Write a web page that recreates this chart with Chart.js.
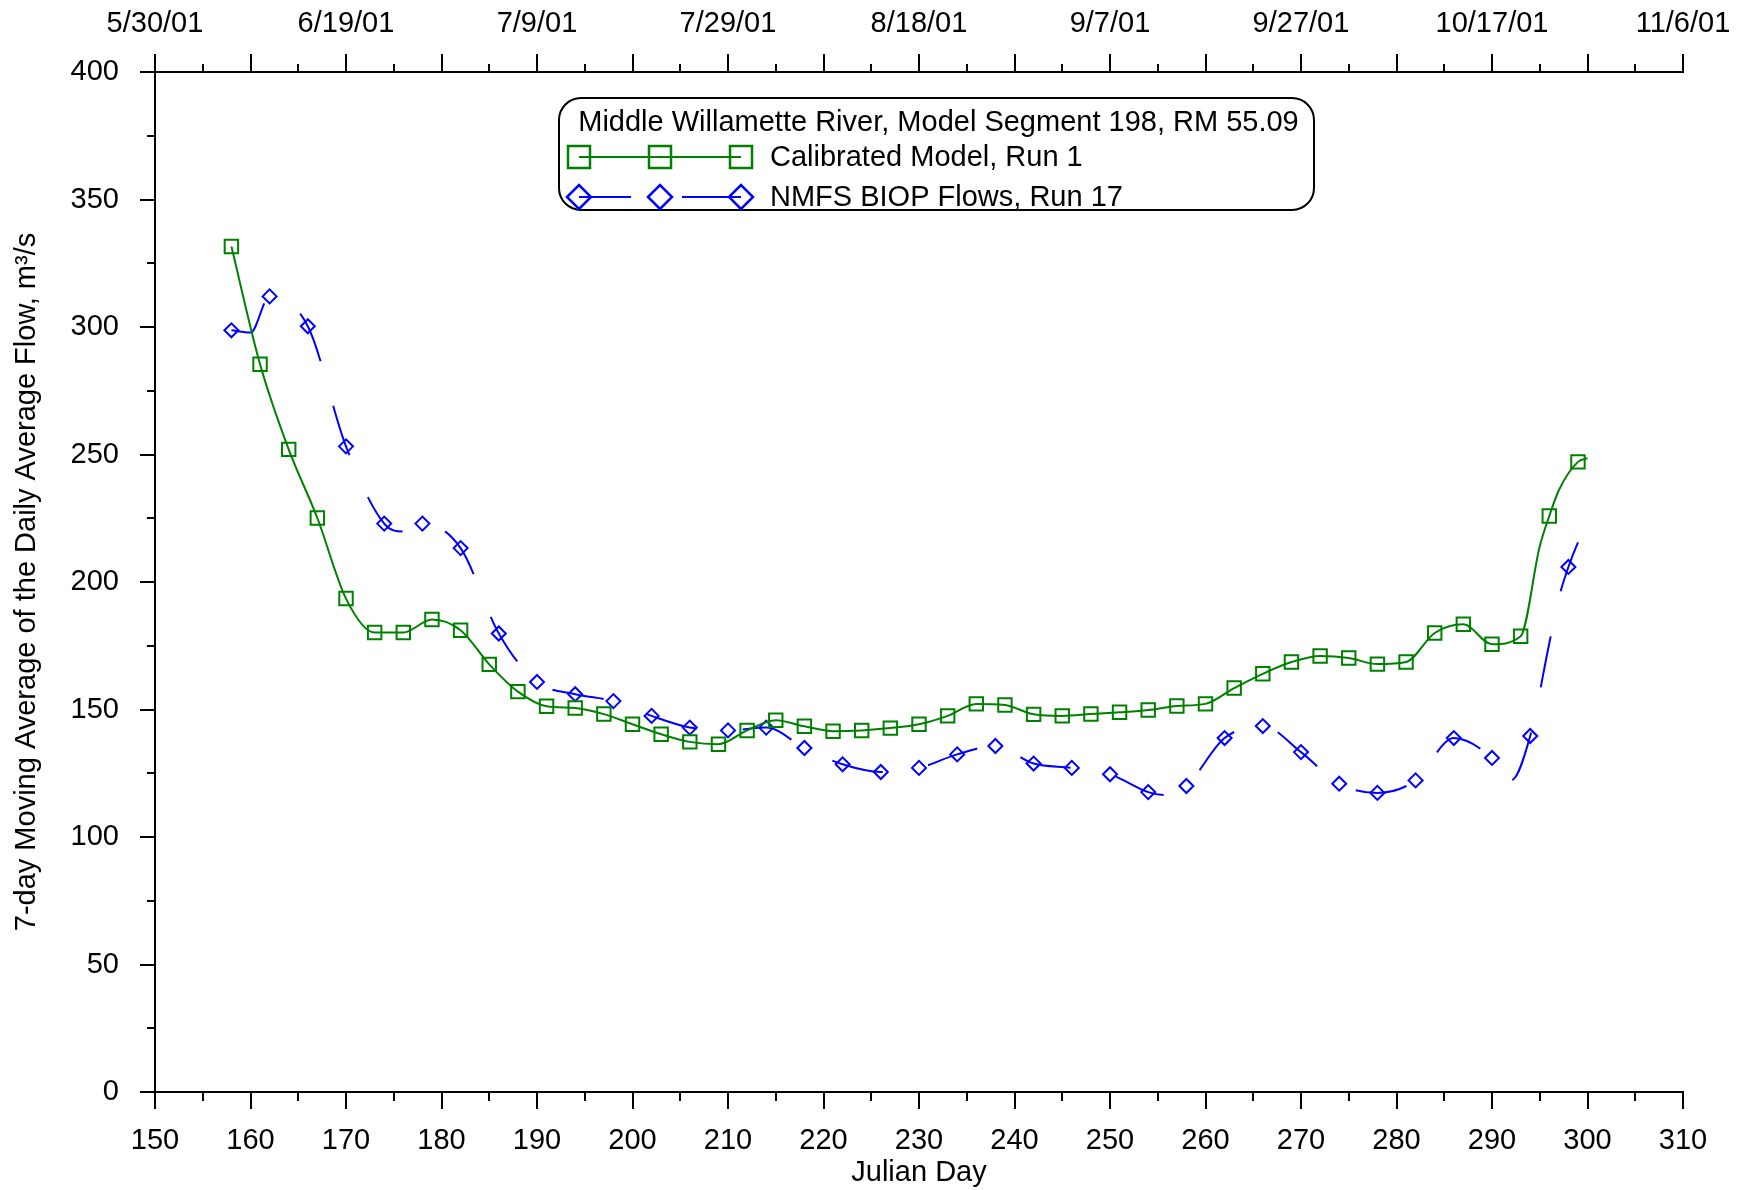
<!DOCTYPE html>
<html>
<head>
<meta charset="utf-8">
<script src="https://cdn.jsdelivr.net/npm/chart.js@4.4.1/dist/chart.umd.min.js"></script>
<style>
  html, body { margin: 0; padding: 0; background: #ffffff; }
  #wrap { width: 1745px; height: 1190px; }
</style>
</head>
<body>
<div id="wrap"><canvas id="flowChart" width="1745" height="1190"></canvas></div>
<script>
// ===============================
// Data
// ===============================

// Calibrated Model, Run 1 (squares every 3 days, line ends on day 300)
const greenDays = [158, 161, 164, 167, 170, 173, 176, 179, 182, 185, 188, 191, 194, 197, 200, 203, 206, 209, 212, 215, 218, 221, 224, 227, 230, 233, 236, 239, 242, 245, 248, 251, 254, 257, 260, 263, 266, 269, 272, 275, 278, 281, 284, 287, 290, 293, 295, 296, 297, 299, 300];
const greenFlow = [331.6, 285.4, 252.0, 225.1, 193.5, 180.2, 180.2, 185.3, 181.1, 167.7, 157.0, 151.3, 150.6, 148.2, 144.2, 140.3, 137.3, 136.4, 141.8, 145.8, 143.4, 141.5, 141.8, 142.7, 144.2, 147.5, 152.2, 151.8, 148.1, 147.5, 148.2, 148.9, 149.8, 151.4, 152.2, 158.4, 164.0, 168.6, 171.0, 170.2, 167.8, 168.6, 180.0, 183.4, 175.6, 178.7, 214.0, 225.9, 236.0, 247.1, 248.6];
const greenMarkDays = [158, 161, 164, 167, 170, 173, 176, 179, 182, 185, 188, 191, 194, 197, 200, 203, 206, 209, 212, 215, 218, 221, 224, 227, 230, 233, 236, 239, 242, 245, 248, 251, 254, 257, 260, 263, 266, 269, 272, 275, 278, 281, 284, 287, 290, 293, 296, 299];

// NMFS BIOP Flows, Run 17 (diamonds every 4 days)
const blueDays = [158, 160, 162, 166, 170, 174, 176, 178, 182, 186, 190, 194, 198, 202, 206, 210, 214, 218, 222, 226, 230, 234, 238, 242, 246, 250, 254, 256, 258, 262, 266, 270, 274, 278, 282, 286, 290, 292, 294, 296, 297, 298, 300];
const blueFlow = [298.7, 297.8, 312.0, 300.3, 253.2, 222.9, 219.8, 222.9, 213.3, 179.8, 160.8, 156.0, 153.3, 147.5, 142.9, 141.8, 142.9, 134.9, 128.5, 125.5, 127.1, 132.4, 135.7, 128.8, 127.1, 124.6, 117.6, 116.4, 120.0, 138.8, 143.5, 133.3, 120.9, 117.3, 122.2, 138.8, 131.0, 122.2, 139.6, 176.0, 193.7, 205.9, 224.4];
const blueMarkDays = [158, 162, 166, 170, 174, 178, 182, 186, 190, 194, 198, 202, 206, 210, 214, 218, 222, 226, 230, 234, 238, 242, 246, 250, 254, 258, 262, 266, 270, 274, 278, 282, 286, 290, 294, 298];

// Date labels on the top axis (every 20 days from day 150)
const topLabels = ["5/30/01", "6/19/01", "7/9/01", "7/29/01", "8/18/01", "9/7/01", "9/27/01", "10/17/01", "11/6/01"];

const legendTitle = "Middle Willamette River, Model Segment 198, RM 55.09";

const FONT = "'Liberation Sans', Arial, sans-serif";
const FSIZE = 29;
const GREEN = "#008000";
const BLUE = "#0000ff";

// ===============================
// Tick marks (major + minor) drawn by hand
// ===============================
const axisTicks = {
  id: "axisTicks",
  afterDraw(chart) {
    const ctx = chart.ctx;
    const xs = chart.scales.x;
    const ys = chart.scales.y;
    const area = chart.chartArea;

    ctx.save();
    ctx.strokeStyle = "#000";
    ctx.lineWidth = 2;
    ctx.beginPath();

    for (let d = 150; d <= 310; d += 5) {
      const px = Math.round(xs.getPixelForValue(d));
      const major = d % 10 === 0;
      ctx.moveTo(px, area.bottom);
      ctx.lineTo(px, area.bottom + (major ? 17 : 9));
      ctx.moveTo(px, area.top);
      ctx.lineTo(px, area.top - (major ? 18 : 8));
    }

    for (let v = 0; v <= 400; v += 25) {
      const py = Math.round(ys.getPixelForValue(v));
      ctx.moveTo(area.left, py);
      ctx.lineTo(area.left - (v % 50 === 0 ? 15 : 8), py);
    }

    ctx.stroke();
    ctx.restore();
  },
};

// ===============================
// Boxed legend with title
// ===============================
const boxLegend = {
  id: "boxLegend",
  afterDraw(chart) {
    const ctx = chart.ctx;
    const ds = chart.data.datasets;
    const left = 559, top = 98, w = 755, h = 112, r = 22;

    ctx.save();

    ctx.beginPath();
    ctx.roundRect(left, top, w, h, r);
    ctx.fillStyle = "#fff";
    ctx.fill();
    ctx.lineWidth = 2;
    ctx.strokeStyle = "#000";
    ctx.stroke();

    ctx.fillStyle = "#000";
    ctx.font = FSIZE + "px " + FONT;
    ctx.textBaseline = "middle";
    ctx.textAlign = "center";
    ctx.fillText(legendTitle, left + w / 2 + 2, 123);

    const marks = [579, 660, 741];

    // green row
    ctx.strokeStyle = GREEN;
    ctx.lineWidth = 2;
    ctx.beginPath();
    ctx.moveTo(marks[0], 157);
    ctx.lineTo(marks[2], 157);
    ctx.stroke();
    ctx.lineWidth = 2.5;
    marks.forEach((mx) => {
      ctx.strokeRect(mx - 11, 157 - 11, 22, 22);
    });

    // blue row
    ctx.strokeStyle = BLUE;
    ctx.lineWidth = 2;
    ctx.beginPath();
    ctx.moveTo(579, 197);
    ctx.lineTo(631, 197);
    ctx.moveTo(682, 197);
    ctx.lineTo(741, 197);
    ctx.stroke();
    ctx.lineWidth = 2.5;
    marks.forEach((mx) => {
      ctx.beginPath();
      ctx.moveTo(mx - 12, 197);
      ctx.lineTo(mx, 185);
      ctx.lineTo(mx + 12, 197);
      ctx.lineTo(mx, 209);
      ctx.closePath();
      ctx.stroke();
    });

    ctx.fillStyle = "#000";
    ctx.textAlign = "left";
    ctx.fillText(ds[0].label, 770, 158);
    ctx.fillText(ds[1].label, 770, 198);

    ctx.restore();
  },
};

// keep the end labels from squeezing the plot area
function fixHorizontal(height) {
  return (s) => {
    s.height = height;
    s.paddingLeft = 0;
    s.paddingRight = 0;
  };
}

Chart.defaults.font.family = FONT;
Chart.defaults.color = "#000";

new Chart(document.getElementById("flowChart"), {
  type: "line",

  data: {
    datasets: [
      {
        label: "Calibrated Model, Run 1",
        data: greenDays.map((d, i) => ({ x: d, y: greenFlow[i] })),
        borderColor: GREEN,
        borderWidth: 2,
        pointStyle: "rect",
        pointRadius: (c) => (c.raw && greenMarkDays.includes(c.raw.x) ? 9.5 : 0),
        pointBorderColor: GREEN,
        pointBackgroundColor: "rgba(0,0,0,0)",
        pointBorderWidth: 2,
        cubicInterpolationMode: "monotone",
        fill: false,
      },
      {
        label: "NMFS BIOP Flows, Run 17",
        data: blueDays.map((d, i) => ({ x: d, y: blueFlow[i] })),
        borderColor: BLUE,
        borderWidth: 2,
        borderDash: [52, 46],
        pointStyle: "rectRot",
        pointRadius: (c) => (c.raw && blueMarkDays.includes(c.raw.x) ? 7 : 0),
        pointBorderColor: BLUE,
        pointBackgroundColor: "rgba(0,0,0,0)",
        pointBorderWidth: 2,
        cubicInterpolationMode: "monotone",
        fill: false,
      },
    ],
  },

  options: {
    responsive: false,
    animation: false,
    layout: { padding: { left: 0, right: 62, top: 0, bottom: 0 } },

    plugins: {
      legend: { display: false },
      tooltip: { enabled: false },
    },

    scales: {
      x: {
        type: "linear",
        position: "bottom",
        min: 150,
        max: 310,
        afterFit: fixHorizontal(98),
        grid: { display: false, drawTicks: false },
        border: { display: true, color: "#000", width: 2 },
        ticks: {
          stepSize: 10,
          autoSkip: false,
          maxRotation: 0,
          padding: 32,
          font: { size: FSIZE },
          color: "#000",
        },
        title: {
          display: true,
          text: "Julian Day",
          font: { size: FSIZE },
          color: "#000",
          padding: { top: 0, bottom: 0 },
        },
      },

      x2: {
        type: "linear",
        position: "top",
        min: 150,
        max: 310,
        afterFit: fixHorizontal(72),
        grid: { display: false, drawTicks: false },
        border: { display: true, color: "#000", width: 2 },
        ticks: {
          stepSize: 20,
          autoSkip: false,
          maxRotation: 0,
          padding: 31,
          font: { size: FSIZE },
          color: "#000",
          callback: (v) => topLabels[Math.round((v - 150) / 20)],
        },
      },

      y: {
        type: "linear",
        position: "left",
        min: 0,
        max: 400,
        afterFit: (s) => { s.width = 155; },
        grid: { display: false, drawTicks: false },
        border: { display: true, color: "#000", width: 2 },
        ticks: {
          stepSize: 50,
          padding: 36,
          font: { size: FSIZE },
          color: "#000",
        },
        title: {
          display: true,
          text: "7-day Moving Average of the Daily Average Flow, m\u00b3/s",
          font: { size: FSIZE },
          color: "#000",
          padding: { top: 10, bottom: 0 },
        },
      },
    },
  },

  plugins: [axisTicks, boxLegend],
});
</script>
</body>
</html>
